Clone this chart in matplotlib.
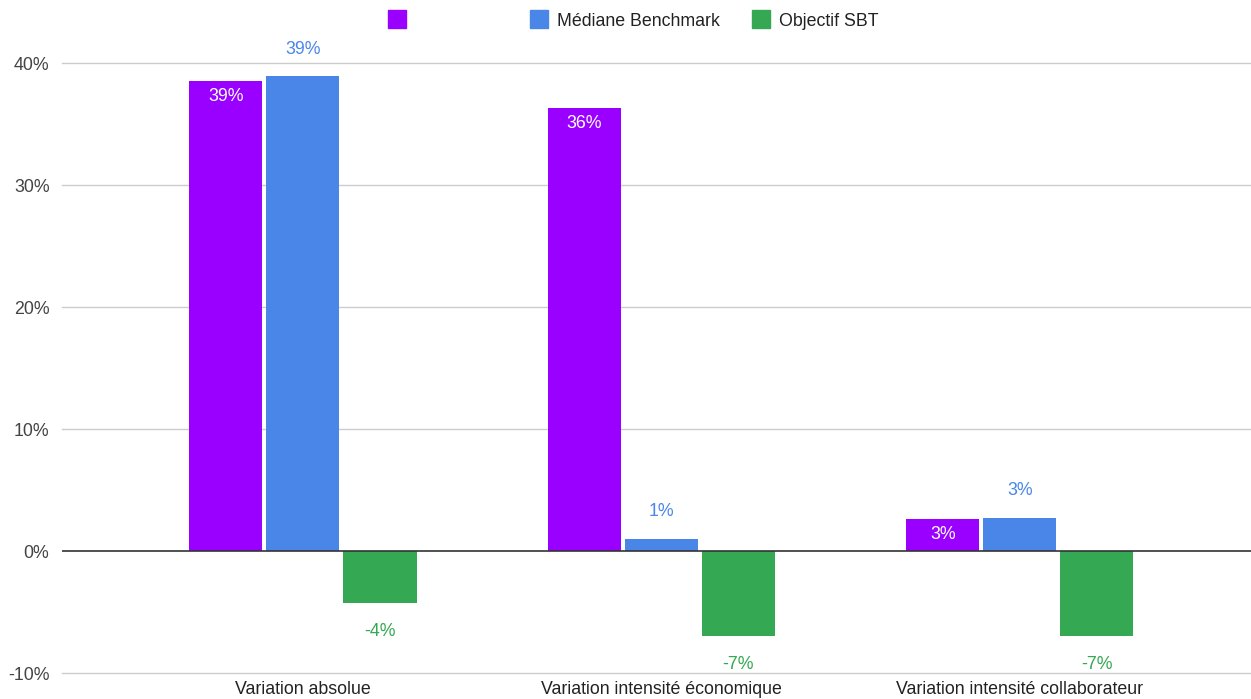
import matplotlib
matplotlib.use("Agg")
import matplotlib.pyplot as plt
from matplotlib.patches import Rectangle
import numpy as np

# ===== data =====
categories = ["Variation absolue", "Variation intensité économique",
              "Variation intensité collaborateur"]
series_names = ["", "Médiane Benchmark", "Objectif SBT"]
entreprise = [38.5, 36.3, 2.6]
benchmark = [38.9, 1.0, 2.7]
objectif_sbt = [-4.3, -7.0, -7.0]
labels_entreprise = ["39%", "36%", "3%"]
labels_benchmark = ["39%", "1%", "3%"]
labels_sbt = ["-4%", "-7%", "-7%"]
yticks = [-10, 0, 10, 20, 30, 40]

PURPLE = "#9900ff"
BLUE = "#4a86e8"
GREEN = "#34a853"
FS = 12.8

plt.rcParams["font.family"] = ["Liberation Sans", "DejaVu Sans"]

W, H = 1251, 699
fig = plt.figure(figsize=(W / 100, H / 100), dpi=100)
ax = fig.add_axes([62 / W, (H - 673) / H, (W - 62) / W, (673 - 63) / H])

x = np.arange(len(categories))
bw = 0.204
step = 0.215

ax.bar(x - step, entreprise, bw, color=PURPLE, zorder=3)
ax.bar(x, benchmark, bw, color=BLUE, zorder=3)
ax.bar(x + step, objectif_sbt, bw, color=GREEN, zorder=3)

# data labels
for xi, v, t in zip(x, entreprise, labels_entreprise):
    ax.annotate(t, (xi - step, v), xytext=(0, -11), textcoords="offset points",
                ha="center", va="center", color="white", fontsize=FS, zorder=4)
for xi, v, t in zip(x, benchmark, labels_benchmark):
    ax.annotate(t, (xi, v), xytext=(0, 19.5), textcoords="offset points",
                ha="center", va="center", color=BLUE, fontsize=FS, zorder=4)
for xi, v, t in zip(x, objectif_sbt, labels_sbt):
    ax.annotate(t, (xi + step, v), xytext=(0, -20), textcoords="offset points",
                ha="center", va="center", color=GREEN, fontsize=FS, zorder=4)

ax.set_xlim(-0.672, 2.645)
ax.set_ylim(-10, 40)
ax.set_yticks(yticks)
ax.set_yticklabels([f"{t}%" for t in yticks], fontsize=FS, color="#444444")
ax.set_xticks(x)
ax.set_xticklabels(categories, fontsize=FS, color="#222222")
ax.tick_params(axis="both", length=0)
ax.tick_params(axis="x", pad=6)
ax.tick_params(axis="y", pad=9)
for t in yticks:
    if t != 0:
        ax.axhline(t, color="#cccccc", linewidth=1, zorder=0, clip_on=False)
ax.axhline(0, color="#333333", linewidth=1.2, zorder=5)
for s in ax.spines.values():
    s.set_visible(False)

# legend drawn manually (first series has a blank name)
leg_items = [(388, PURPLE, series_names[0]),
             (530, BLUE, series_names[1]),
             (752, GREEN, series_names[2])]
for px, col, name in leg_items:
    fig.patches.append(Rectangle((px / W, (H - 28) / H), 18 / W, 18 / H,
                                 transform=fig.transFigure, color=col))
    if name:
        fig.text((px + 27) / W, (H - 19) / H, name, fontsize=FS,
                 color="#222222", va="center_baseline", ha="left")

fig.savefig("out.png", dpi=100)
